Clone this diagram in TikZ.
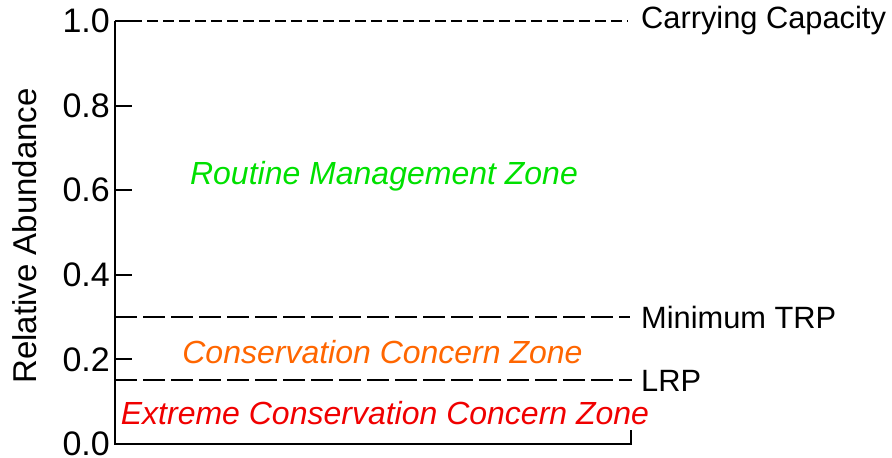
\documentclass[tikz,border=0pt]{standalone}
\usepackage{fontspec}
\setmainfont{Liberation Sans}
\definecolor{zgreen}{RGB}{0,224,0}
\definecolor{zorange}{RGB}{255,102,0}
\definecolor{zred}{RGB}{240,0,0}
\tikzset{
  axisline/.style={line width=2pt, line cap=butt},
  refshort/.style={line width=2pt, dash pattern=on 11pt off 5pt},
  reflong/.style={line width=2pt, dash pattern=on 22pt off 6pt},
  ticklabel/.style={anchor=east, inner sep=0pt, font=\fontsize{34}{40}\selectfont},
  reflabel/.style={anchor=west, inner sep=0pt, font=\fontsize{30.8}{36}\selectfont},
  zonelabel/.style={inner sep=0pt, font=\fontsize{32}{36}\selectfont\itshape},
}
\begin{document}
\begin{tikzpicture}[x=1pt,y=1pt]
\useasboundingbox (0,0) rectangle (892,458);
% axis corners
\coordinate (top) at (115,437);
\coordinate (origin) at (115,14);
\coordinate (xend) at (631,14);
\coordinate (xtick) at (631,28);
\draw[axisline] (top) -- (origin) -- (xend) -- (xtick);
% ticks
\foreach \v/\n in {0.2/t2,0.4/t4,0.6/t6,0.8/t8,1.0/t10}{
  \coordinate (\n a) at (115,{14+423*\v});
  \coordinate (\n b) at (132,{14+423*\v});
  \draw[axisline] (\n a) -- (\n b);
}
% tick labels
\foreach \v/\n in {0.0/l0,0.2/l2,0.4/l4,0.6/l6,0.8/l8,1.0/l10}{
  \node[ticklabel] (\n) at (110,{14+423*\v}) {\v};
}
% reference lines
\coordinate (ccA) at (115,437);
\coordinate (ccB) at (628,437);
\draw[refshort] (ccA) -- (ccB);
\coordinate (trpA) at (115,141);
\coordinate (trpB) at (630,141);
\draw[reflong] (trpA) -- (trpB);
\coordinate (lrpA) at (115,77.5);
\coordinate (lrpB) at (632,77.5);
\draw[reflong] (lrpA) -- (lrpB);
% reference labels
\node[reflabel] (cc) at (641,437) {Carrying Capacity};
\node[reflabel] (trp) at (641,141) {Minimum TRP};
\node[reflabel] (lrp) at (641,77.5) {LRP};
% zone labels
\node[zonelabel, text=zgreen] (rmz) at (384,282) {Routine Management Zone};
\node[zonelabel, text=zorange] (ccz) at (382.5,106) {Conservation Concern Zone};
\node[zonelabel, text=zred] (eccz) at (385,45) {Extreme Conservation Concern Zone};
% axis title
\node[rotate=90, inner sep=0pt, font=\fontsize{33}{38}\selectfont] (ytitle) at (25,222) {Relative Abundance};
\end{tikzpicture}
\end{document}
